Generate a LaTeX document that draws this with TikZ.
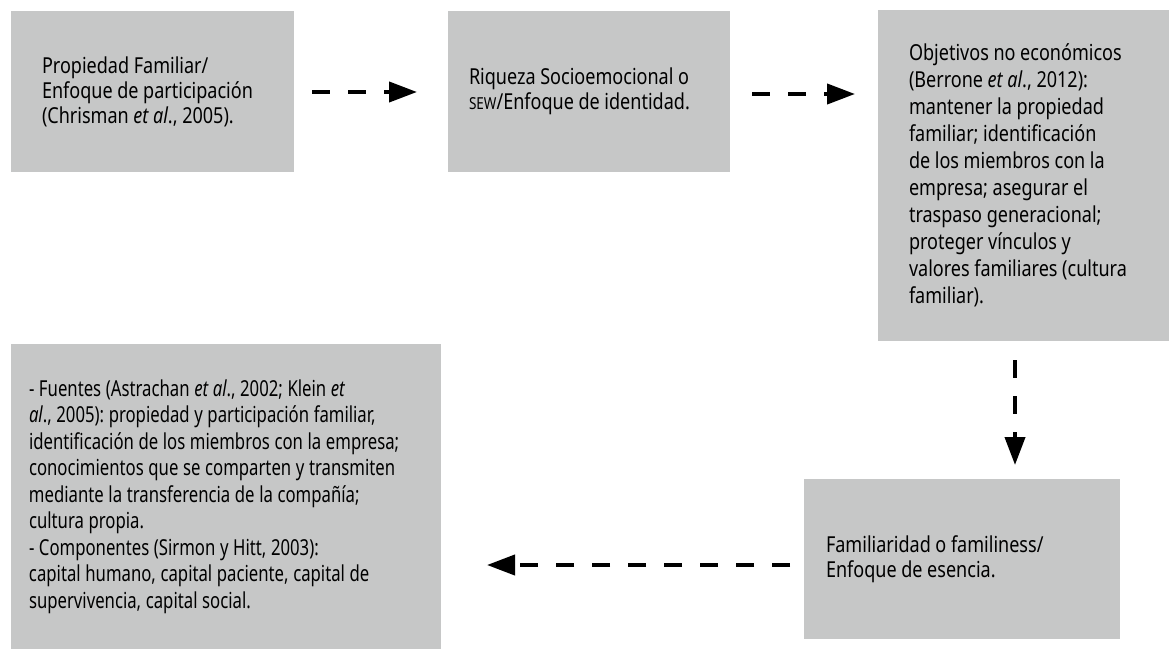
\documentclass[tikz,border=0pt]{standalone}
\usepackage{fontspec}
\setmainfont{Noto Sans}[FakeStretch=0.82]
\newfontfamily\srcfont{Noto Sans}[FakeStretch=0.76]
\usetikzlibrary{arrows.meta}
\definecolor{boxgray}{RGB}{198,199,199}
\newcommand{\smallcaps}[1]{{\fontsize{16.5}{25}\selectfont #1}}
\protected\def\boxfont#1{\fontsize{22}{#1}\selectfont
  \spaceskip=0.21em plus 0.05em minus 0.03em\relax}
\frenchspacing
\begin{document}
\begin{tikzpicture}
  [x=1pt,y=1pt,every node/.style={anchor=north west,fill=boxgray,outer sep=0pt,
   inner ysep=0pt,align=flush left,font=\boxfont{25}},
   flow/.style={line width=4pt,dash pattern=on 18pt off 18pt,
   -{Triangle[length=28pt,width=20pt]}}]
  \useasboundingbox (0,0) rectangle (1169,-650);
  \node (own) at (11,-11) [minimum width=283,minimum height=161,
   inner xsep=31,text width=221] {Propiedad Familiar/\\Enfoque de participación\\(Chrisman \textit{et al}., 2005).};
  \node (sew) at (448,-11) [minimum width=282,minimum height=161,
   inner xsep=21,text width=240] {Riqueza Socioemocional o\\\smallcaps{SEW}/Enfoque de identidad.};
  \node (goals) at (878,-10) [minimum width=291,minimum height=331,
   inner xsep=31,text width=229,font=\boxfont{27}] {Objetivos no económicos\\(Berrone \textit{et al}., 2012):\\mantener la propiedad\\familiar; identificación\\de los miembros con la\\empresa; asegurar el\\traspaso generacional;\\proteger vínculos y\\valores familiares (cultura\\familiar).};
  \node (fam) at (804,-479) [minimum width=316,minimum height=160,
   inner xsep=22,text width=272] {Familiaridad o familiness/\\Enfoque de esencia.};
  \node (src) at (11,-344) [minimum width=430,minimum height=305,
   inner xsep=18,text width=394,font=\srcfont\boxfont{26.5}] {- Fuentes (Astrachan \textit{et al}., 2002; Klein \textit{et}\\\textit{al}., 2005): propiedad y participación familiar,\\identificación de los miembros con la empresa;\\conocimientos que se comparten y transmiten\\mediante la transferencia de la compañía;\\cultura propia.\\- Componentes (Sirmon y Hitt, 2003):\\capital humano, capital paciente, capital de\\supervivencia, capital social.};

  \draw[flow,shorten <=18pt,shorten >=31pt] ([yshift=-0.5]own.east) -- ([yshift=-0.5]own.east -| sew.west);
  \draw[flow,shorten <=22pt,shorten >=23pt] ([yshift=-2.5]sew.east) -- ([yshift=-2.5]sew.east -| goals.west);
  \draw[flow,shorten <=19pt,shorten >=14pt] ([xshift=-8.5]goals.south) -- ([xshift=-8.5]goals.south |- fam.north);
  \draw[flow,shorten <=14pt,shorten >=46pt] ([yshift=-6]fam.west) -- ([yshift=-6]fam.west -| src.east);

\end{tikzpicture}
\end{document}
